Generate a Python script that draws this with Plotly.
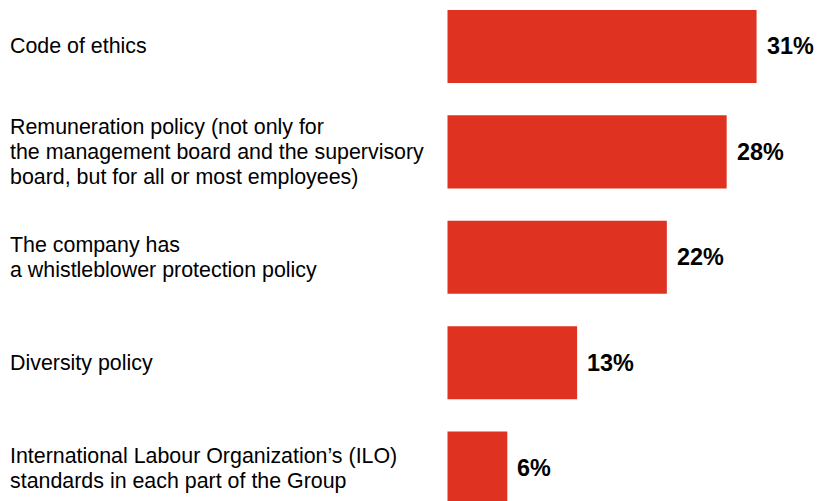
import plotly.graph_objects as go

# Survey results: share of companies with each policy in place
categories = [
    "Code of ethics",
    "Remuneration policy (not only for<br>the management board and the supervisory<br>board, but for all or most employees)",
    "The company has<br>a whistleblower protection policy",
    "Diversity policy",
    "International Labour Organization’s (ILO)<br>standards in each part of the Group",
]
values = [31, 28, 22, 13, 6]
value_labels = ["31%", "28%", "22%", "13%", "6%"]

BAR_COLOR = "#e03220"
FONT = "Liberation Sans, Arial, sans-serif"
LINE_GAP = 25  # px between label lines

positions = list(range(len(categories)))

fig = go.Figure(
    go.Bar(
        x=values,
        y=positions,
        orientation="h",
        width=0.693,
        marker=dict(color=BAR_COLOR, line=dict(width=0)),
        hoverinfo="skip",
    )
)

annotations = []
for pos, cat, val, lab in zip(positions, categories, values, value_labels):
    lines = cat.split("<br>")
    n = len(lines)
    for k, line in enumerate(lines):
        annotations.append(dict(
            x=-43.9, y=pos, xref="x", yref="y",
            text=line, showarrow=False,
            xanchor="left", yanchor="middle",
            xshift=-2,
            yshift=((n - 1) / 2 - k) * LINE_GAP,
            font=dict(family=FONT, size=21.4, color="#000000"),
        ))
    annotations.append(dict(
        x=val, y=pos, xref="x", yref="y",
        text=f"<b>{lab}</b>", showarrow=False,
        xanchor="left", yanchor="middle", xshift=8,
        font=dict(family=FONT, size=23.4, color="#000000"),
    ))

fig.update_layout(
    width=818, height=501,
    margin=dict(l=0, r=0, t=0, b=0),
    paper_bgcolor="white", plot_bgcolor="white",
    showlegend=False,
    xaxis=dict(range=[-44.88, 37.16], visible=False, fixedrange=True),
    yaxis=dict(range=[4.312, -0.441], visible=False, fixedrange=True),
    annotations=annotations,
)

fig.write_html("out.html")
